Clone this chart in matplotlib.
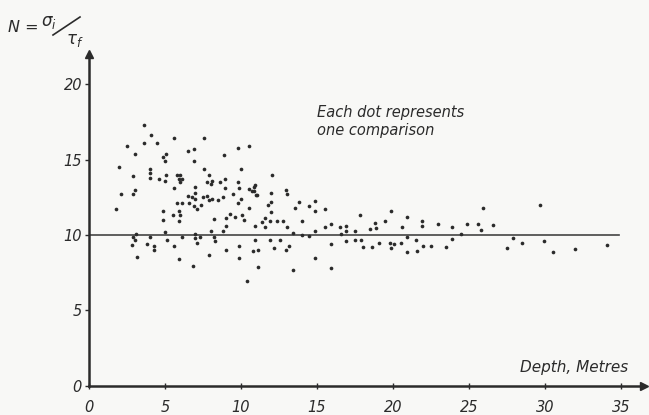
import matplotlib.pyplot as plt
from matplotlib.lines import Line2D

# depth (m) and N = sigma_i / tau_f
depth = [3.6, 4.1, 2.5, 3.6, 4.5, 5.6, 7.6, 3.0, 5.1, 4.9, 5.0, 6.5, 6.9, 6.9, 8.9, 9.8, 10.5,
         2.0, 4.0, 4.0, 4.0, 2.9, 4.6, 5.0, 5.1, 5.8, 6.0, 5.9, 6.1, 6.0, 7.6, 7.9, 5.6, 7.0,
         7.8, 8.0, 8.1, 8.6, 8.95, 9.8, 10.0, 8.95, 9.9, 10.5, 10.85, 10.7, 11.0, 3.0, 2.9,
         2.1, 1.8, 7.0, 7.0, 6.5, 6.75, 7.5, 7.8, 8.1, 7.9, 8.5, 8.8, 9.5, 9.8, 10.0, 5.8,
         6.1, 6.6, 6.9, 7.1, 7.35, 4.9, 5.9, 5.5, 6.0, 5.9, 4.9, 8.2, 9.25, 9.05, 9.6, 10.05,
         10.2, 10.55, 9.0, 8.8, 10.9, 5.0, 8.0, 3.1, 2.9, 3.0, 2.85, 4.0, 3.85, 4.25, 4.25,
         5.15, 5.6, 6.15, 7.0, 7.0, 7.1, 7.3, 8.2, 8.3, 10.9, 9.85, 3.15, 5.9, 6.85, 7.9,
         9.0, 9.85, 10.8, 11.1, 11.1, 10.4,
         12.05, 10.9, 10.85, 11.05, 11.95, 12.95, 13.05, 11.8, 11.95, 11.95, 13.85, 13.55,
         14.5, 14.9, 14.9, 15.55, 17.85, 19.9, 20.9, 21.9, 21.9, 22.95, 11.4, 11.6, 11.55,
         11.9, 12.35, 12.75, 13.0, 14.0, 13.45, 14.0, 14.45, 14.9, 15.5, 15.9, 16.5, 16.55,
         16.9, 16.9, 16.9, 17.5, 17.5, 17.9, 18.5, 18.9, 18.85, 19.5, 11.9, 12.55, 12.2,
         12.95, 13.15, 13.45, 14.9, 15.95, 15.95, 18.0, 18.6, 19.1, 19.8, 19.9, 20.1, 20.5,
         20.9, 20.95, 21.5, 21.6, 21.95, 22.5, 23.5, 20.6,
         23.9, 23.9, 24.5, 24.9, 25.6, 25.8, 25.95, 26.6, 27.5, 27.9, 28.5, 29.7, 29.95,
         30.5, 32.0, 34.05]
ratio = [17.3, 16.6, 15.9, 16.1, 16.1, 16.4, 16.4, 15.4, 15.4, 15.2, 14.9, 15.6, 15.7, 14.9,
         15.3, 15.8, 15.9, 14.5, 14.4, 14.1, 13.8, 13.9, 13.7, 13.55, 13.95, 14.0, 14.0, 13.7,
         13.7, 13.5, 14.4, 14.0, 13.1, 13.2, 13.5, 13.4, 13.6, 13.5, 13.7, 13.5, 14.4, 13.1,
         13.1, 13.05, 13.2, 12.9, 12.65, 13.0, 12.7, 12.7, 11.7, 12.8, 12.4, 12.6, 12.5, 12.5,
         12.6, 12.4, 12.3, 12.35, 12.5, 12.7, 12.1, 12.4, 12.1, 12.1, 12.1, 11.9, 11.7, 12.0,
         11.6, 11.6, 11.3, 11.3, 10.9, 11.0, 11.05, 11.4, 11.15, 11.2, 11.35, 11.0, 11.8,
         10.6, 10.3, 10.6, 10.2, 10.25, 10.1, 9.85, 9.65, 9.35, 9.85, 9.4, 9.25, 9.0, 9.7,
         9.3, 9.85, 10.1, 9.8, 9.5, 9.9, 9.9, 9.6, 9.7, 9.3, 8.55, 8.4, 7.95, 8.65, 9.0, 8.5,
         8.95, 9.0, 7.9, 6.95,
         14.0, 13.3, 12.9, 12.65, 12.8, 13.0, 12.7, 12.0, 12.2, 11.5, 12.2, 11.8, 11.9, 12.25,
         11.6, 11.75, 11.3, 11.6, 11.2, 10.9, 10.6, 10.75, 10.85, 11.1, 10.55, 10.9, 10.9,
         10.95, 10.55, 10.95, 10.15, 10.0, 9.95, 10.3, 10.5, 10.75, 10.5, 10.05, 10.6, 10.25,
         9.6, 10.3, 9.7, 9.7, 10.4, 10.45, 10.8, 10.9, 9.65, 9.65, 9.15, 9.0, 9.3, 7.7, 8.5,
         9.4, 7.8, 9.2, 9.2, 9.45, 9.5, 9.15, 9.4, 9.5, 9.85, 8.85, 9.65, 8.95, 9.25, 9.3,
         9.2, 10.55,
         10.5, 9.75, 10.1, 10.75, 10.75, 10.35, 11.8, 10.65, 9.15, 9.8, 9.45, 12.0, 9.6,
         8.9, 9.05, 9.35]

x_ticks = [0, 5, 10, 15, 20, 25, 30, 35]
y_ticks = [0, 5, 10, 15, 20]
ink = '#2b2b2b'
W, H = 649, 415

fig = plt.figure(figsize=(6.49, 4.15), dpi=100, facecolor='#f8f8f6')
ax = fig.add_axes([0.137, 0.07, 0.855, 0.80])
ax.set_facecolor('#f8f8f6')

ax.scatter(depth, ratio, s=7, color=ink, linewidths=0, zorder=3)
ax.plot([0, 34.9], [10, 10], color='#444444', lw=1.2, zorder=2)

ax.set_xlim(0, 36.5)
ax.set_ylim(0, 22)
for s in ['top', 'right']:
    ax.spines[s].set_visible(False)
for s in ['left', 'bottom']:
    ax.spines[s].set_color(ink)
    ax.spines[s].set_linewidth(1.8)

# arrow heads on the axes
ax.plot(1, 0, '>', color=ink, ms=6, transform=ax.transAxes, clip_on=False)
ax.plot(0, 1, '^', color=ink, ms=6, transform=ax.transAxes, clip_on=False)

ax.set_xticks(x_ticks)
ax.set_yticks(y_ticks)
ax.set_xticklabels([str(v) for v in x_ticks], fontstyle='italic', fontsize=10.5, color=ink)
ax.set_yticklabels([str(v) for v in y_ticks], fontstyle='italic', fontsize=10.5, color=ink)
ax.tick_params(axis='x', direction='inout', length=4, width=1, pad=8, colors=ink)
ax.tick_params(axis='y', direction='out', length=3, width=1, pad=2, colors=ink)

ax.text(35.5, 0.7, 'Depth, Metres', ha='right', va='bottom', fontsize=11,
        fontstyle='italic', color=ink)
ax.text(15.0, 18.1, 'Each dot represents', ha='left', va='center', fontsize=10.5,
        fontstyle='italic', color=ink)
ax.text(15.0, 16.9, 'one comparison', ha='left', va='center', fontsize=10.5,
        fontstyle='italic', color=ink)

# y label: N = sigma_i / tau_f, written as a slanted fraction
fig.text(8 / W, 1 - 28 / H, 'N =', ha='left', va='center', fontsize=11.5,
         fontstyle='italic', color=ink)
fig.text(41 / W, 1 - 22 / H, r'$\sigma_i$', ha='left', va='center', fontsize=12, color=ink)
fig.text(66 / W, 1 - 40 / H, r'$\tau_f$', ha='left', va='center', fontsize=12, color=ink)
fig.add_artist(Line2D([53 / W, 80 / W], [1 - 35 / H, 1 - 17 / H], color=ink, lw=1.2,
                      transform=fig.transFigure))

fig.savefig('out.png', dpi=100, facecolor=fig.get_facecolor())
